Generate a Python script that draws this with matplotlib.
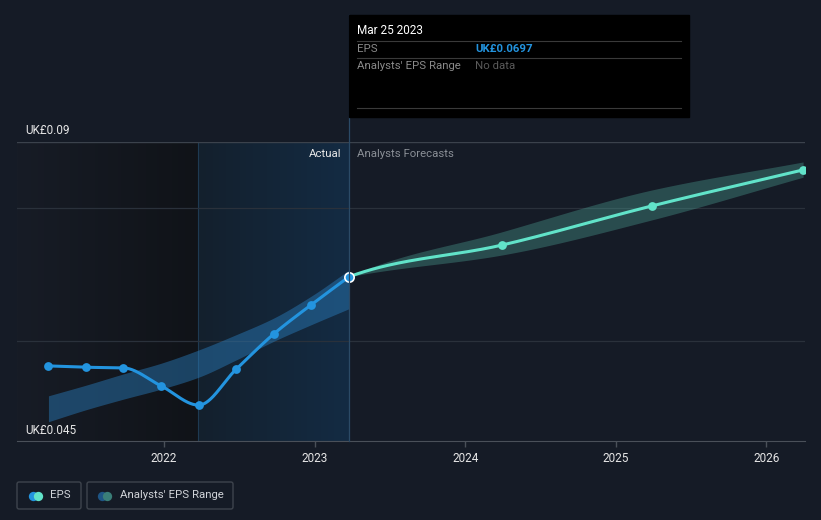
import numpy as np
import pandas as pd
from matplotlib import pyplot as plt
from matplotlib.patches import FancyBboxPatch, Rectangle
from matplotlib.colors import LinearSegmentedColormap

plt.rcParams['font.family'] = ['Roboto', 'DejaVu Sans']

# actual EPS (UK£)
actual_dates = ['2021-03-27', '2021-06-26', '2021-09-25', '2021-12-25', '2022-03-26',
                '2022-06-25', '2022-09-24', '2022-12-24', '2023-03-25']
actual_eps = [0.0563, 0.0561, 0.0560, 0.0533, 0.0504, 0.0558, 0.0611, 0.0655, 0.0697]

# past analysts range
range_low = [0.0479, 0.0497, 0.0513, 0.0528, 0.0546, 0.0572, 0.0600, 0.0625, 0.0649]
range_high = [0.0518, 0.0534, 0.0551, 0.0567, 0.0587, 0.0610, 0.0635, 0.0668, 0.0707]

# forecasts
fc_dates = ['2023-03-25', '2024-03-31', '2025-03-31', '2026-03-31']
fc_eps = [0.0697, 0.0745, 0.0804, 0.0858]
fc_low = [0.0697, 0.0730, 0.0783, 0.0847]
fc_high = [0.0697, 0.0765, 0.0828, 0.0870]

y_labels = ['UK£0.045', 'UK£0.09']
x_years = [2022, 2023, 2024, 2025, 2026]

BG = '#151b26'
BLUE = '#2394df'
TEAL = '#61e3c9'
FS = 8.2


def to_year(dates):
    d = pd.to_datetime(pd.Series(dates))
    return (d.dt.year + (d.dt.dayofyear - 1) / 365.25).to_numpy()


def monotone(x, y, n=60, start_k=1.0):
    # monotone cubic (Fritsch-Carlson) just for drawing the curve smoothly
    x = np.asarray(x, float)
    y = np.asarray(y, float)
    h = np.diff(x)
    d = np.diff(y) / h
    m = np.zeros_like(y)
    m[0], m[-1] = d[0] * start_k, d[-1]
    for i in range(1, len(y) - 1):
        if d[i - 1] * d[i] <= 0:
            m[i] = 0
        else:
            w1 = 2 * h[i] + h[i - 1]
            w2 = h[i] + 2 * h[i - 1]
            m[i] = (w1 + w2) / (w1 / d[i - 1] + w2 / d[i])
    xs, ys = [], []
    for i in range(len(x) - 1):
        t = np.linspace(0, 1, n)
        h00 = 2 * t**3 - 3 * t**2 + 1
        h10 = t**3 - 2 * t**2 + t
        h01 = -2 * t**3 + 3 * t**2
        h11 = t**3 - t**2
        xs.append(x[i] + t * h[i])
        ys.append(h00 * y[i] + h10 * h[i] * m[i] + h01 * y[i + 1] + h11 * h[i] * m[i + 1])
    return np.concatenate(xs), np.concatenate(ys)


xa = to_year(actual_dates)
xf = to_year(fc_dates)

fig = plt.figure(figsize=(8.21, 5.2), dpi=100, facecolor=BG)
W, H = 821, 520
ax = fig.add_axes([17 / W, (H - 441) / H, (805 - 17) / W, (441 - 142) / H])
ax.set_facecolor(BG)
x0 = 2022 - 147 / 150.6
x1 = 2022 + 641 / 150.6
ax.set_xlim(x0, x1)
ax.set_ylim(0.045, 0.09)

# shaded regions
split = xa[-1] - 1.0
grad = np.linspace(0, 1, 100).reshape(1, -1)
cm_dark = LinearSegmentedColormap.from_list('d', ['#171c26', '#101318'])
cm_blue = LinearSegmentedColormap.from_list('b', ['#14202d', '#132b43'])
ax.imshow(grad, extent=[x0, split, 0.045, 0.09], aspect='auto', cmap=cm_dark, zorder=0)
ax.imshow(grad, extent=[split, xa[-1], 0.045, 0.09], aspect='auto', cmap=cm_blue, zorder=0)
ax.axvline(split, color='#1e3a52', lw=0.8, zorder=1)

# gridlines
for g in [0.06, 0.08]:
    ax.axhline(g, color='#2a313b', lw=0.9, zorder=1)
ax.axhline(0.09, color='#3b424c', lw=1, zorder=1)

# bands
sx, sl = monotone(xa, range_low)
_, sh = monotone(xa, range_high)
ax.fill_between(sx, sl, sh, color='#2a7fc0', alpha=0.45, lw=0, zorder=2)
fx, fl = monotone(xf, fc_low, start_k=1.4)
_, fh = monotone(xf, fc_high, start_k=1.6)
ax.fill_between(fx, fl, fh, color='#4fa89a', alpha=0.35, lw=0, zorder=2)

# lines
lx, ly = monotone(xa, actual_eps)
ax.plot(lx, ly, color=BLUE, lw=2.2, zorder=4, solid_capstyle='round')
ax.scatter(xa[:-1], actual_eps[:-1], s=40, color=BLUE, zorder=5, lw=0)
flx, fly = monotone(xf, fc_eps, start_k=1.8)
ax.plot(flx, fly, color=TEAL, lw=2.2, zorder=4, solid_capstyle='round')
ax.scatter(xf[1:], fc_eps[1:], s=40, color=TEAL, zorder=5, lw=0)
ax.scatter([xa[-1]], [actual_eps[-1]], s=45, color=BLUE, edgecolor='white', lw=1.2, zorder=6)

# axes styling
for s in ['top', 'right', 'left']:
    ax.spines[s].set_visible(False)
ax.spines['bottom'].set_color('#4a5059')
ax.set_yticks([])
ax.set_xticks(x_years)
ax.set_xticklabels([str(y) for y in x_years], fontsize=8.5)
ax.tick_params(axis='x', colors='#4a5059', length=4, width=1, pad=4, labelcolor='#e6e6e6')

# overlay in pixel coordinates
ov = fig.add_axes([0, 0, 1, 1])
ov.set_xlim(0, W)
ov.set_ylim(H, 0)
ov.axis('off')
ov.patch.set_alpha(0)

ov.text(25, 130, y_labels[1], color='#e6e6e6', fontsize=8.5, va='center')
ov.text(25, 430, y_labels[0], color='#e6e6e6', fontsize=8.5, va='center')
ov.text(341, 154, 'Actual', color='#e6e6e6', fontsize=FS, va='center', ha='right')
ov.text(357, 154, 'Analysts Forecasts', color='#8a8f96', fontsize=FS, va='center')

# tooltip
ov.plot([349, 349], [15, 441], color='#2b4a66', lw=0.9, zorder=1)
ov.add_patch(Rectangle((349, 15), 340, 102, color='black', zorder=3))
for yy in [41, 58, 108]:
    ov.plot([357, 681], [yy, yy], color='#3a3a3a', lw=0.8, zorder=4)
ov.text(357, 31, 'Mar 25 2023', color='white', fontsize=8.5, va='center', zorder=5)
ov.text(357, 49, 'EPS', color='#8a8a8a', fontsize=FS, va='center', zorder=5)
ov.text(475, 49, 'UK£{:.4f}'.format(actual_eps[-1]), color=BLUE, fontsize=FS,
        va='center', fontweight='bold', zorder=5)
ov.text(357, 66, "Analysts' EPS Range", color='#8a8a8a', fontsize=FS, va='center', zorder=5)
ov.text(475, 66, 'No data', color='#5a5a5a', fontsize=FS, va='center', zorder=5)

# legend
ov.add_patch(FancyBboxPatch((17, 482), 64, 27, boxstyle='round,pad=0,rounding_size=2',
                            fc='none', ec='#3e444d', lw=1))
ov.add_patch(FancyBboxPatch((87, 482), 146, 27, boxstyle='round,pad=0,rounding_size=2',
                            fc='none', ec='#3e444d', lw=1))
ov.scatter([33], [495.5], s=45, color=BLUE, lw=0)
ov.scatter([38], [495.5], s=45, color=TEAL, lw=0)
ov.scatter([102], [495.5], s=45, color='#1e5585', lw=0)
ov.scatter([107], [495.5], s=45, color='#3a7e78', lw=0)
ov.text(50, 495.5, 'EPS', color='#d0d3d8', fontsize=FS, va='center')
ov.text(120, 495.5, "Analysts' EPS Range", color='#d0d3d8', fontsize=FS, va='center')

fig.savefig('out.png', dpi=100, facecolor=BG)
